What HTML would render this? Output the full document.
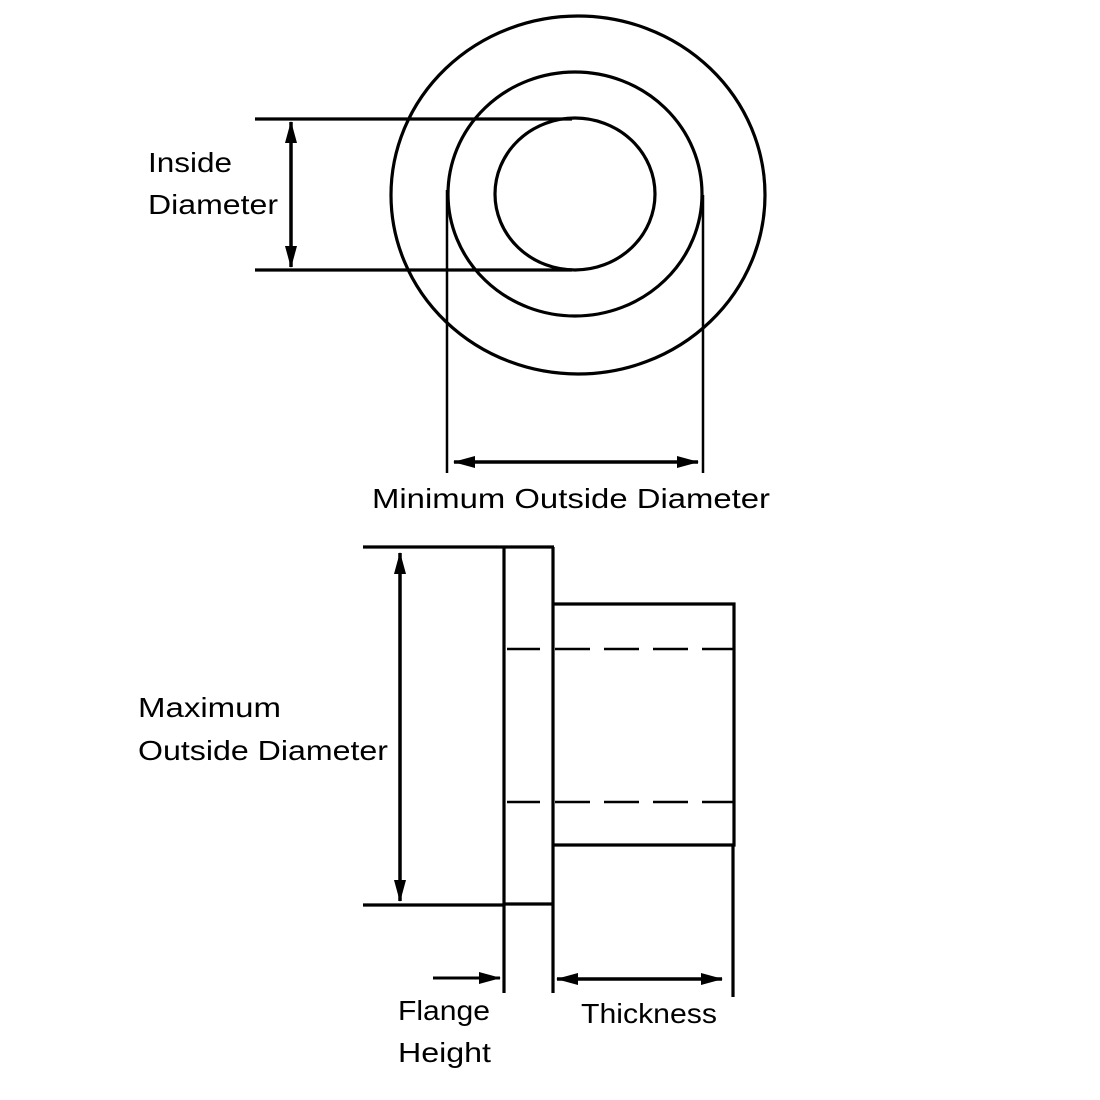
<!DOCTYPE html>
<html><head><style>html,body{margin:0;padding:0;background:#fff}svg{display:block}</style></head><body>
<svg width="1100" height="1100" viewBox="0 0 1100 1100" xmlns="http://www.w3.org/2000/svg">
<defs>
<marker id="b" viewBox="0 0 22 12" refX="21" refY="6" markerWidth="22" markerHeight="12" orient="auto-start-reverse" markerUnits="userSpaceOnUse" preserveAspectRatio="none"><path d="M0,0 L22,6 L0,12z" fill="#000"/></marker>
</defs>
<g fill="none" stroke="#000" stroke-width="3.2">
<ellipse cx="578" cy="195" rx="187" ry="179"/>
<ellipse cx="575" cy="194" rx="127" ry="122"/>
<ellipse cx="575" cy="194" rx="80" ry="76"/>
<line x1="255" y1="119" x2="572" y2="119"/>
<line x1="255" y1="270" x2="572" y2="270"/>
<line x1="291" y1="122" x2="291" y2="267" stroke-width="3.5" marker-start="url(#b)" marker-end="url(#b)"/>
<line x1="447" y1="190" x2="447" y2="473" stroke-width="2.5"/>
<line x1="703" y1="195" x2="703" y2="473" stroke-width="2.5"/>
<line x1="454" y1="462" x2="698" y2="462" stroke-width="3.5" marker-start="url(#b)" marker-end="url(#b)"/>

<line x1="363" y1="547" x2="554" y2="547"/>
<line x1="363" y1="905" x2="504" y2="905"/>
<line x1="504" y1="547" x2="504" y2="993"/>
<line x1="553" y1="547" x2="553" y2="993"/>
<line x1="553" y1="904" x2="504" y2="904"/>
<polyline points="553,604 734,604 734,845 553,845"/>
<line x1="733" y1="845" x2="733" y2="997"/>
<line x1="507" y1="649" x2="540" y2="649" stroke-width="2.5"/>
<line x1="507" y1="802" x2="540" y2="802" stroke-width="2.5"/>
<line x1="555" y1="649" x2="733" y2="649" stroke-width="2.5" stroke-dasharray="35 14"/>
<line x1="555" y1="802" x2="733" y2="802" stroke-width="2.5" stroke-dasharray="35 14"/>
<line x1="400" y1="553" x2="400" y2="901" stroke-width="3.5" marker-start="url(#b)" marker-end="url(#b)"/>
<line x1="433" y1="978" x2="500" y2="978" stroke-width="3" marker-end="url(#b)"/>
<line x1="557" y1="979" x2="722" y2="979" stroke-width="3.5" marker-start="url(#b)" marker-end="url(#b)"/>
</g>
<g font-family="Liberation Sans, sans-serif" font-size="28" fill="#000">
<text x="148" y="172" textLength="84" lengthAdjust="spacingAndGlyphs">Inside</text>
<text x="148" y="214" textLength="130" lengthAdjust="spacingAndGlyphs">Diameter</text>
<text x="372" y="508" textLength="398" lengthAdjust="spacingAndGlyphs">Minimum Outside Diameter</text>
<text x="138" y="717" textLength="143" lengthAdjust="spacingAndGlyphs">Maximum</text>
<text x="138" y="760" textLength="250" lengthAdjust="spacingAndGlyphs">Outside Diameter</text>
<text x="398" y="1020" textLength="92" lengthAdjust="spacingAndGlyphs">Flange</text>
<text x="398" y="1062" textLength="93" lengthAdjust="spacingAndGlyphs">Height</text>
<text x="581" y="1023" textLength="136" lengthAdjust="spacingAndGlyphs">Thickness</text>
</g>
</svg>
</body></html>
